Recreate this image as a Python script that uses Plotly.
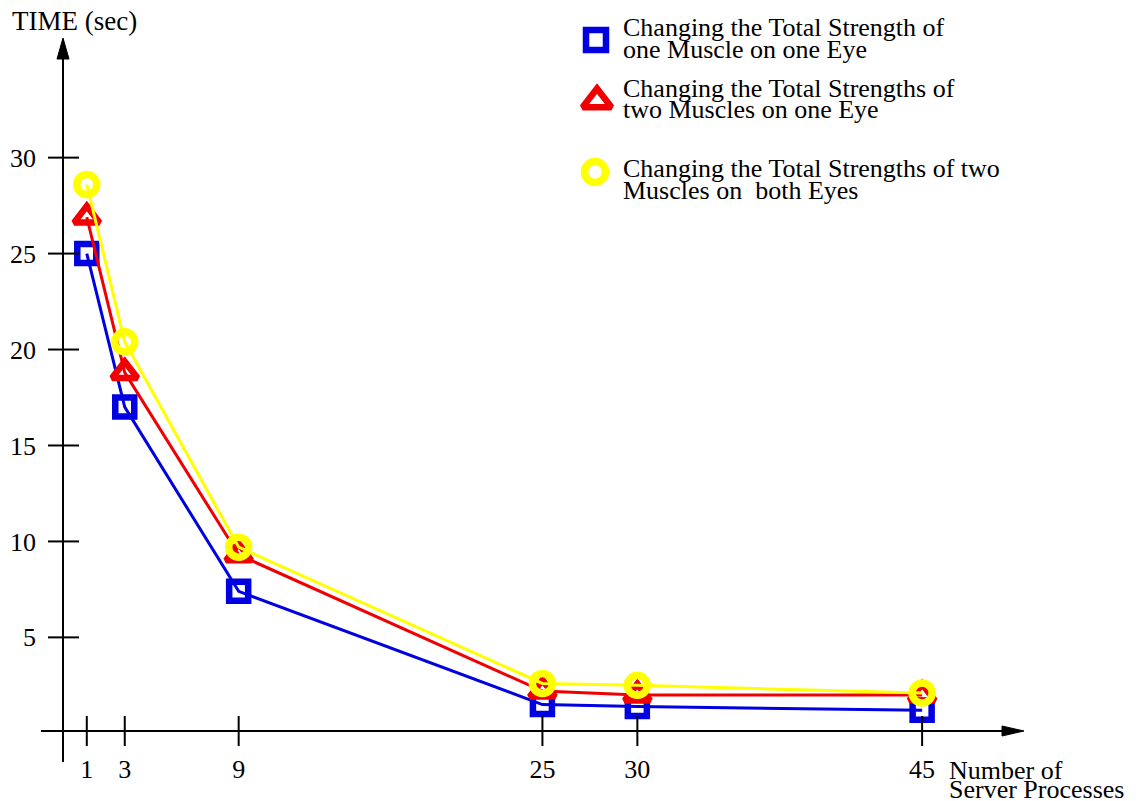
import plotly.graph_objects as go

# ---------------- data ----------------
processes = [1, 3, 9, 25, 30, 45]
one_muscle_one_eye = [25.0, 17.0, 7.4, 1.5, 1.4, 1.2]
two_muscles_one_eye = [26.9, 18.8, 9.3, 2.2, 2.0, 2.0]
two_muscles_both_eyes = [28.6, 20.4, 9.7, 2.6, 2.5, 2.1]

x_ticks = [1, 3, 9, 25, 30, 45]
y_ticks = [5, 10, 15, 20, 25, 30]

series_names = [
    ["Changing the Total Strength of", "one Muscle on one Eye"],
    ["Changing the Total Strengths of", "two Muscles on one Eye"],
    ["Changing the Total Strengths of two", "Muscles on  both Eyes"],
]
y_title = "TIME (sec)"
x_title = ["Number of", "Server Processes"]

# ---------------- layout constants ----------------
W, H = 1142, 801
FONT = "Liberation Serif, Times New Roman, serif"
BLUE = "rgb(0,0,225)"
RED = "rgb(240,0,0)"
YELLOW = "rgb(255,255,0)"
FS = 26

# axis scales (value -> pixel in the picture)
X0_PX, X_PER = 67.8, 18.985
Y17_PX, Y_PER = 397.5, 19.19


def vx(px):
    return (px - X0_PX) / X_PER


def vy(py):
    return 17.5 - (py - Y17_PX) / Y_PER


AX_X = vx(63)       # where y axis sits (data x)
AX_Y = vy(731)      # where x axis sits (data y)

fig = go.Figure()

styles = [
    (one_muscle_one_eye, BLUE, "square-open", 19, 6.5, 20),
    (two_muscles_one_eye, RED, "triangle-up-open", 22, 6.5, 25),
    (two_muscles_both_eyes, YELLOW, "circle-open", 20, 7.5, 21),
]
for (vals, col, sym, sz, lw, ksz), nm in zip(styles, series_names):
    fig.add_trace(go.Scatter(
        x=processes, y=vals, mode="lines+markers",
        line=dict(color=col, width=3),
        marker=dict(symbol=sym, size=sz, color=col, line=dict(width=lw, color=col)),
        name=" ".join(nm), showlegend=False, cliponaxis=False,
    ))

# legend keys on a pixel overlay axis
key_px_x = [596, 597, 595]
key_px_y = [40, 101, 172]
for (vals, col, sym, sz, lw, ksz), kx, ky in zip(styles, key_px_x, key_px_y):
    fig.add_trace(go.Scatter(
        x=[kx], y=[ky], mode="markers", xaxis="x2", yaxis="y2",
        marker=dict(symbol=sym, size=ksz, color=col, line=dict(width=lw, color=col)),
        showlegend=False, hoverinfo="skip", cliponaxis=False,
    ))

shapes = []
# axis lines
shapes.append(dict(type="line", xref="x", yref="y", x0=AX_X, x1=AX_X, y0=vy(762), y1=vy(40),
                   line=dict(color="black", width=2)))
shapes.append(dict(type="line", xref="x", yref="y", x0=vx(41), x1=vx(1020), y0=AX_Y, y1=AX_Y,
                   line=dict(color="black", width=2)))
# arrow heads
shapes.append(dict(type="path", xref="x", yref="y", xsizemode="pixel", ysizemode="pixel",
                   xanchor=AX_X, yanchor=vy(38), path="M0,0 L-6,-21 L6,-21 Z",
                   fillcolor="black", line=dict(color="black", width=1)))
shapes.append(dict(type="path", xref="x", yref="y", xsizemode="pixel", ysizemode="pixel",
                   xanchor=vx(1024), yanchor=AX_Y, path="M0,0 L-22,5 L-22,-5 Z",
                   fillcolor="black", line=dict(color="black", width=1)))
# ticks crossing the axes
for t in x_ticks:
    shapes.append(dict(type="line", xref="x", yref="y", ysizemode="pixel", yanchor=AX_Y,
                       x0=t, x1=t, y0=-15, y1=15, line=dict(color="black", width=2)))
for t in y_ticks:
    shapes.append(dict(type="line", xref="x", yref="y", xsizemode="pixel", xanchor=AX_X,
                       y0=t, y1=t, x0=-15, x1=16, line=dict(color="black", width=2)))

annotations = []


def text(px, py, s, size=FS):
    annotations.append(dict(xref="x2", yref="y2", x=px, y=py, text=s, showarrow=False,
                            xanchor="left", yanchor="middle",
                            font=dict(family=FONT, size=size, color="black")))


text(10, 21, y_title, 27)
text(947, 770, x_title[0])
text(947, 789, x_title[1])
legend_rows = [(27, 49), (88, 109), (168, 190)]
for (l1, l2), (r1, r2) in zip(series_names, legend_rows):
    text(621, r1, l1)
    text(621, r2, l2)

fig.update_layout(
    width=W, height=H, autosize=False,
    margin=dict(l=0, r=0, t=0, b=0, pad=0),
    paper_bgcolor="white", plot_bgcolor="white",
    showlegend=False,
    font=dict(family=FONT, size=FS, color="black"),
    xaxis=dict(range=[vx(0), vx(W)], domain=[0, 1], anchor="free", position=1 - 731 / H,
               showgrid=False, zeroline=False, showline=False, ticks="",
               tickvals=x_ticks, ticktext=[str(t) for t in x_ticks],
               tickfont=dict(family=FONT, size=FS), ticklabelstandoff=20),
    yaxis=dict(range=[vy(H), vy(0)], domain=[0, 1], anchor="free", position=63 / W,
               showgrid=False, zeroline=False, showline=False, ticks="",
               tickvals=y_ticks, ticktext=[str(t) for t in y_ticks],
               tickfont=dict(family=FONT, size=FS), ticklabelstandoff=27),
    xaxis2=dict(range=[0, W], overlaying="x", visible=False, domain=[0, 1]),
    yaxis2=dict(range=[H, 0], overlaying="y", visible=False, domain=[0, 1]),
    shapes=shapes,
    annotations=annotations,
)

fig.write_html("out.html", config={"displayModeBar": False},
               post_script="document.body.style.margin='0';")
